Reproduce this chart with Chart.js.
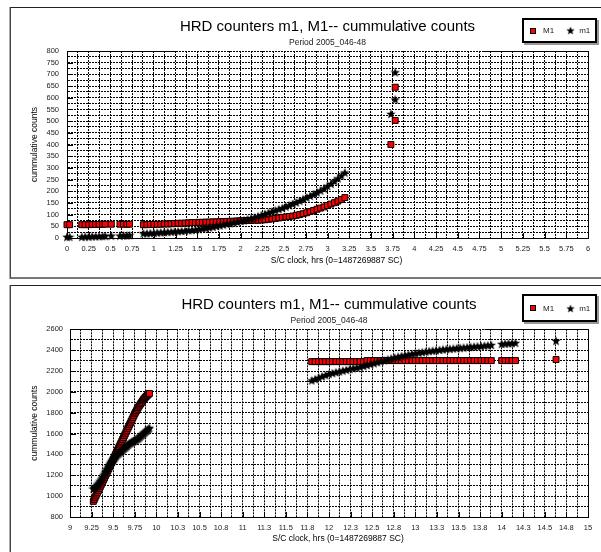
<!DOCTYPE html>
<html><head><meta charset="utf-8">
<script src="https://cdn.jsdelivr.net/npm/chart.js@4"></script>
<style>
html,body{margin:0;padding:0;background:#fff;width:601px;height:552px;overflow:hidden;font-family:"Liberation Sans",Arial,sans-serif;}
.panel{position:absolute;left:10px;width:600px;border-top:1px solid #222;border-left:1px solid #444;border-bottom:2px solid #777;box-shadow:-1px 0 0 #aaa;}
#p1{top:7px;height:269px;}
#p2{top:285px;height:290px;}
canvas{position:absolute;left:0;}
#c1{top:0;}
#c2{top:280px;}
.legend{position:absolute;left:522px;width:65px;border:2px solid #000;box-shadow:2px 2px 0 #999;background:#fff;display:flex;align-items:center;font-size:8px;color:#222;padding-left:6px;box-sizing:content-box;}
#lg1{top:18px;height:21px;}
#lg2{top:294px;height:24px;}
.mk{display:inline-block;}
.sq{width:6px;height:6px;box-sizing:border-box;border:1px solid #000;background:#ff0000;margin-right:7px;}
.st{margin-left:12px;margin-right:4px;width:9px;height:9px;}
</style></head>
<body>
<div class="panel" id="p1"></div>
<div class="panel" id="p2"></div>
<canvas id="c1" width="601" height="280"></canvas>
<canvas id="c2" width="601" height="272"></canvas>
<div class="legend" id="lg1"></div>
<div class="legend" id="lg2"></div>
<script>
// ---------- DATA ----------
const chartTitle = 'HRD counters m1, M1-- cummulative counts';
const chartSubtitle = 'Period 2005_046-48';
const xAxisTitle = 'S/C clock, hrs (0=1487269887 SC)';
const yAxisTitle = 'cummulative counts';
const seriesNames = ['M1', 'm1'];

// top panel tick labels
const xLabelsTop = ['0','0.25','0.5','0.75','1','1.25','1.5','1.75','2','2.25','2.5','2.75','3','3.25','3.5','3.75','4','4.25','4.5','4.75','5','5.25','5.5','5.75','6'];
const yLabelsTop = ['0','50','100','150','200','250','300','350','400','450','500','550','600','650','700','750','800'];
// bottom panel tick labels
const xLabelsBottom = ['9','9.25','9.5','9.75','10','10.3','10.5','10.8','11','11.3','11.5','11.8','12','12.3','12.5','12.8','13','13.3','13.5','13.8','14','14.3','14.5','14.8','15'];
const yLabelsBottom = ['800','1000','1200','1400','1600','1800','2000','2200','2400','2600'];

// top panel series (hours, counts)
const timeTop = [0, 0.03, 0.17, 0.21, 0.25, 0.29, 0.33, 0.37, 0.41, 0.44, 0.51, 0.61, 0.65, 0.69, 0.72,
  0.88, 0.92, 0.96, 1.00, 1.04, 1.08, 1.12, 1.16, 1.20, 1.24, 1.28, 1.32, 1.36, 1.40, 1.44, 1.48, 1.52, 1.56, 1.60,
  1.64, 1.68, 1.72, 1.76, 1.80, 1.84, 1.88, 1.92, 1.96, 2.00, 2.04, 2.08, 2.12, 2.16, 2.20, 2.24, 2.28, 2.32, 2.36, 2.40,
  2.44, 2.48, 2.52, 2.56, 2.60, 2.64, 2.68, 2.72, 2.76, 2.80, 2.84, 2.88, 2.92, 2.96, 3.00, 3.04, 3.08, 3.12, 3.16, 3.20];
const M1Top = [57, 57, 57, 57, 57, 58, 58, 58, 59, 59, 59, 59, 59, 59, 59,
  57, 57, 58, 58, 59, 59, 60, 60, 61, 62, 63, 63, 64, 65, 66, 66, 67, 67, 68,
  68, 69, 69, 70, 70, 71, 71, 72, 73, 74, 74, 75, 75, 76, 76, 77, 78, 80, 82, 84,
  86, 88, 90, 92, 94, 97, 100, 104, 108, 113, 118, 123, 128, 133, 139, 145, 151, 158, 165, 173];
const m1Top = [5, 5, 5, 6, 6, 7, 7, 8, 8, 9, 10, 10, 11, 11, 12,
  20, 20, 21, 22, 23, 24, 25, 26, 27, 28, 29, 30, 31, 33, 34, 36, 38, 40, 42,
  45, 48, 51, 54, 57, 60, 63, 66, 69, 73, 76, 80, 84, 88, 93, 98, 103, 108, 113, 118,
  123, 128, 134, 140, 146, 152, 159, 166, 173, 180, 187, 195, 203, 212, 222, 232, 243, 255, 267, 280];
const burstTimeM1Top = [3.73, 3.78, 3.78];
const burstM1Top = [400, 503, 645];
const burstTimem1Top = [3.73, 3.78, 3.78];
const burstm1Top = [531, 593, 709];

// bottom panel, first burst (hours, counts)
const timeBottomA = [9.27, 9.28, 9.29, 9.30, 9.31, 9.32, 9.33, 9.34, 9.35, 9.36, 9.37, 9.38, 9.39, 9.40, 9.41, 9.42,
  9.43, 9.44, 9.45, 9.46, 9.47, 9.48, 9.49, 9.50, 9.51, 9.52, 9.53, 9.54, 9.55, 9.56, 9.57, 9.58, 9.59, 9.60,
  9.61, 9.62, 9.63, 9.64, 9.65, 9.66, 9.67, 9.68, 9.69, 9.70, 9.71, 9.72, 9.73, 9.74, 9.75, 9.76, 9.77, 9.78,
  9.79, 9.80, 9.81, 9.82, 9.83, 9.84, 9.85, 9.86, 9.87, 9.88, 9.89, 9.90, 9.91, 9.92];
const M1BottomA = [950, 967, 985, 1002, 1020, 1037, 1055, 1072, 1090, 1107, 1125, 1142, 1160, 1177, 1195, 1212,
  1230, 1247, 1265, 1282, 1300, 1317, 1335, 1352, 1370, 1387, 1405, 1422, 1440, 1457, 1475, 1492, 1510, 1527,
  1545, 1562, 1580, 1597, 1615, 1632, 1650, 1667, 1685, 1702, 1720, 1737, 1755, 1772, 1790, 1805, 1820, 1835,
  1850, 1863, 1875, 1888, 1900, 1913, 1925, 1935, 1945, 1954, 1962, 1970, 1978, 1985];
const m1BottomA = [1070, 1078, 1085, 1092, 1100, 1110, 1120, 1132, 1145, 1158, 1170, 1185, 1200, 1215, 1230, 1245,
  1260, 1275, 1290, 1303, 1315, 1328, 1340, 1350, 1360, 1370, 1380, 1390, 1400, 1408, 1415, 1423, 1430, 1438,
  1445, 1453, 1460, 1468, 1475, 1483, 1490, 1498, 1505, 1510, 1515, 1520, 1525, 1530, 1535, 1540, 1545, 1550,
  1555, 1562, 1570, 1578, 1585, 1593, 1600, 1608, 1615, 1623, 1630, 1638, 1645, 1655];

// bottom panel, second part (hours, counts)
const timeBottomB = [11.80, 11.84, 11.88, 11.92, 11.96, 12.00, 12.04, 12.08, 12.12, 12.16, 12.20, 12.24, 12.28, 12.32, 12.36, 12.40,
  12.44, 12.48, 12.52, 12.56, 12.60, 12.64, 12.68, 12.72, 12.76, 12.80,
  12.84, 12.88, 12.92, 12.96, 13.00, 13.04, 13.08, 13.12, 13.16, 13.20,
  13.24, 13.28, 13.32, 13.36, 13.40, 13.44, 13.48, 13.52, 13.56, 13.60,
  13.64, 13.68, 13.72, 13.76, 13.80, 13.84, 13.88,
  14.00, 14.04, 14.08, 14.12, 14.16, 14.63];
const M1BottomB = [2290, 2290, 2290, 2290, 2290, 2290, 2290, 2290, 2290, 2290, 2290, 2290, 2290, 2290, 2290, 2290,
  2300, 2300, 2300, 2300, 2300, 2300, 2300, 2300, 2300, 2300,
  2300, 2300, 2300, 2300, 2300, 2300, 2300, 2300, 2300, 2300,
  2300, 2300, 2300, 2300, 2300, 2300, 2300, 2300, 2300, 2300,
  2300, 2300, 2300, 2300, 2300, 2300, 2300,
  2300, 2300, 2300, 2300, 2300, 2310];
const m1BottomB = [2110, 2122, 2135, 2148, 2160, 2172, 2180, 2188, 2196, 2204, 2212, 2219, 2226, 2233, 2240, 2248,
  2257, 2266, 2275, 2284, 2293, 2302, 2311, 2320, 2329, 2337,
  2344, 2351, 2358, 2364, 2370, 2376, 2381, 2386, 2391, 2395,
  2399, 2403, 2407, 2410, 2413, 2416, 2419, 2422, 2425, 2428,
  2431, 2434, 2437, 2440, 2443, 2446, 2449,
  2460, 2463, 2465, 2467, 2470, 2490];

// ---------- STYLE / HELPERS ----------
const FONT = '"Liberation Sans", Arial, sans-serif';
Chart.defaults.font.family = FONT;
Chart.defaults.color = '#222';

function makeStar(size) {
  const c = document.createElement('canvas');
  c.width = size; c.height = size;
  const g = c.getContext('2d');
  const cx = size / 2, cy = size / 2 + 0.4, R = size / 2, r = R * 0.42;
  g.beginPath();
  for (let i = 0; i < 10; i++) {
    const a = -Math.PI / 2 + i * Math.PI / 5;
    const rr = i % 2 === 0 ? R : r;
    g.lineTo(cx + rr * Math.cos(a), cy + rr * Math.sin(a));
  }
  g.closePath();
  g.fillStyle = '#000';
  g.fill();
  return c;
}
const starImg = makeStar(10);

function pts(xs, ys) { return xs.map((x, i) => ({x: x, y: ys[i]})); }

const framePlugin = {
  id: 'frame',
  beforeDatasetsDraw(chart, args, opts) {
    const ctx = chart.ctx, a = chart.chartArea;
    ctx.save();
    ctx.font = '15px ' + FONT;
    const tw = ctx.measureText(chartTitle).width;
    const cx = (a.left + a.right) / 2;
    const g0 = cx - tw / 2 - 4, g1 = cx + tw / 2 + 8;
    const top = Math.round(a.top) + 0.5, right = Math.round(a.right) + 0.5;
    ctx.strokeStyle = '#000';
    ctx.lineWidth = 1;
    ctx.beginPath();
    ctx.moveTo(a.left, top); ctx.lineTo(g0, top);
    ctx.moveTo(g1, top); ctx.lineTo(right, top); ctx.lineTo(right, a.bottom);
    const xs = chart.scales.x, ys = chart.scales.y;
    ys.ticks.forEach(tk => {
      if (tk.label !== '') {
        const py = Math.round(ys.getPixelForValue(tk.value)) + 0.5;
        ctx.moveTo(a.left, py); ctx.lineTo(a.left + 6, py);
      }
    });
    xs.ticks.forEach(tk => {
      if (tk.label !== '') {
        const px = Math.round(xs.getPixelForValue(tk.value)) + 0.5;
        ctx.moveTo(px, a.bottom); ctx.lineTo(px, a.bottom - 5);
      }
    });
    ctx.stroke();
    ctx.fillStyle = '#000';
    ctx.font = '8.5px ' + FONT;
    ctx.textAlign = 'center';
    ctx.textBaseline = 'middle';
    ctx.fillText(xAxisTitle, cx + opts.dx, a.bottom + opts.dy);
    ctx.restore();
  }
};

function labelFor(labels, min, step) {
  return function (value) {
    const k = (value - min) / step;
    const kr = Math.round(k);
    return Math.abs(k - kr) < 1e-6 && labels[kr] !== undefined ? labels[kr] : '';
  };
}

function makeChart(canvasId, legendId, p) {
  const chart = new Chart(document.getElementById(canvasId), {
    type: 'scatter',
    data: {
      datasets: [
        {label: seriesNames[0], data: p.M1, pointStyle: 'rect', pointRadius: 4.2, pointBackgroundColor: '#ff0000',
          pointBorderColor: '#000', pointBorderWidth: 1, order: 1, clip: false},
        {label: seriesNames[1], data: p.m1, pointStyle: starImg, pointRadius: 5, order: 0, clip: false}
      ]
    },
    options: {
      responsive: false, animation: false, events: [],
      layout: {padding: {top: p.padTop, left: 30, right: 13, bottom: 0}},
      plugins: {
        legend: {display: false}, tooltip: {enabled: false},
        title: {display: true, text: chartTitle, fullSize: false, color: '#000',
          font: {size: 15, weight: 'normal'}, padding: {top: 10, bottom: 0}},
        subtitle: {display: true, text: chartSubtitle, fullSize: false, color: '#222',
          font: {size: 8.5, weight: 'normal'}, padding: {top: 1.4, bottom: 3.4}},
        frame: {dx: 9, dy: p.xTitleDy}
      },
      scales: {
        x: {
          type: 'linear', min: p.xMin, max: p.xMax,
          afterFit: s => { s.height = p.xHeight; },
          ticks: {stepSize: p.xMinor, autoSkip: false, maxRotation: 0, padding: 6,
            font: {size: 7.5}, color: '#222', callback: labelFor(p.xLabels, p.xMin, p.xMajor)},
          grid: {color: '#000', lineWidth: 1, drawTicks: false},
          border: {display: true, color: '#000', width: 1, dash: [2, 1]}
        },
        y: {
          min: p.yMin, max: p.yMax,
          afterFit: s => { s.width = p.yWidth; },
          ticks: {stepSize: p.yMinor, autoSkip: false, padding: p.yPad,
            font: {size: 7.5}, color: '#222', callback: labelFor(p.yLabels, p.yMin, p.yMajor)},
          grid: {color: '#000', lineWidth: 1, drawTicks: false},
          border: {display: true, color: '#000', width: 1, dash: [2, 1]},
          title: {display: true, text: yAxisTitle, color: '#000', font: {size: 8.5}, padding: 0}
        }
      }
    },
    plugins: [framePlugin]
  });
  // HTML legend built from the chart's datasets
  const lg = document.getElementById(legendId);
  chart.data.datasets.forEach((ds) => {
    let mk;
    if (ds.pointStyle === 'rect') {
      mk = document.createElement('span');
      mk.className = 'mk sq';
      mk.style.background = ds.pointBackgroundColor;
    } else {
      mk = document.createElement('img');
      mk.src = ds.pointStyle.toDataURL();
      mk.className = 'mk st';
    }
    const lb = document.createElement('span');
    lb.textContent = ds.label;
    lg.appendChild(mk); lg.appendChild(lb);
  });
  return chart;
}

makeChart('c1', 'lg1', {
  M1: pts(timeTop, M1Top).concat(pts(burstTimeM1Top, burstM1Top)),
  m1: pts(timeTop, m1Top).concat(pts(burstTimem1Top, burstm1Top)),
  xMin: 0, xMax: 6, xMajor: 0.25, xMinor: 0.125, xLabels: xLabelsTop,
  yMin: 0, yMax: 800, yMajor: 50, yMinor: 25, yLabels: yLabelsTop,
  padTop: 8, xHeight: 42, yWidth: 37, yPad: 8, xTitleDy: 23
});
makeChart('c2', 'lg2', {
  M1: pts(timeBottomA, M1BottomA).concat(pts(timeBottomB, M1BottomB)),
  m1: pts(timeBottomA, m1BottomA).concat(pts(timeBottomB, m1BottomB)),
  xMin: 9, xMax: 15, xMajor: 0.25, xMinor: 0.125, xLabels: xLabelsBottom,
  yMin: 800, yMax: 2600, yMajor: 200, yMinor: 100, yLabels: yLabelsBottom,
  padTop: 6.3, xHeight: 35, yWidth: 40, yPad: 7, xTitleDy: 21.5
});
</script>
</body></html>
